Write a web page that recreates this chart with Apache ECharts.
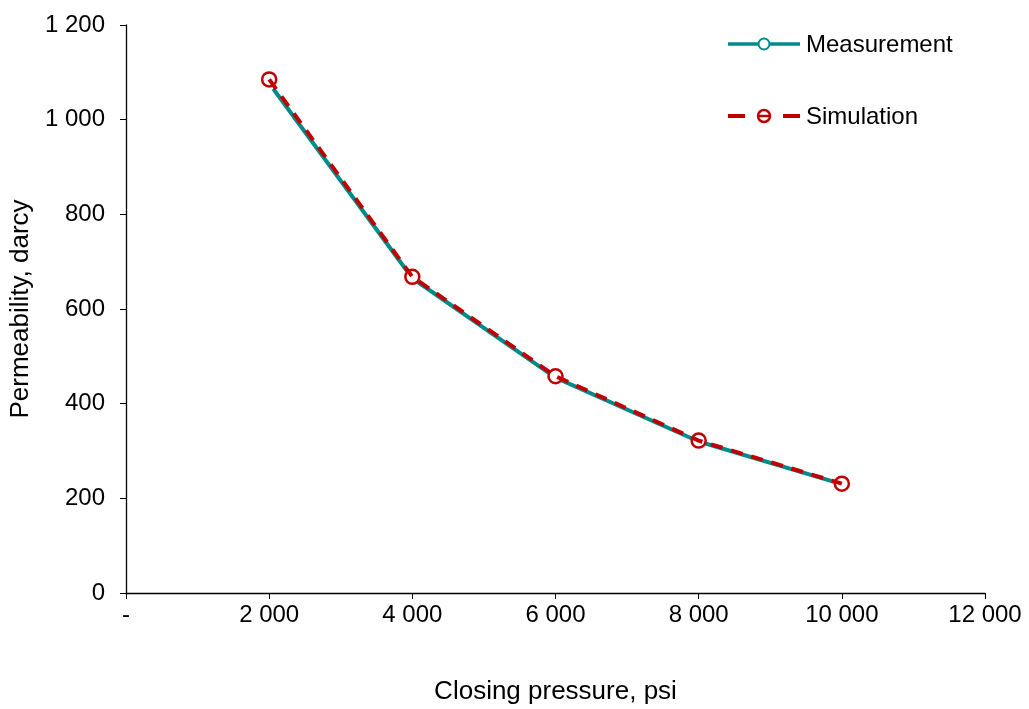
<!DOCTYPE html>
<html><head><meta charset="utf-8">
<script src="https://cdn.jsdelivr.net/npm/echarts@6/dist/echarts.min.js"></script>
<style>html,body{margin:0;padding:0;background:#fff}#c{width:1029px;height:709px}</style>
</head><body><div id="c"></div>
<script>
const pressure = [2000, 4000, 6000, 8000, 10000];
const measurement = [1077, 665, 455, 320, 230];
const simulation = [1085, 668, 458, 322, 231];
const seriesNames = ['Measurement', 'Simulation'];

function fmt(v){ return String(v).replace(/\B(?=(\d{3})+(?!\d))/g,' '); }

const TEAL = '#008B8B', RED = '#C00000';
const chart = echarts.init(document.getElementById('c'));
const F = 'Liberation Sans, Arial, sans-serif';
chart.setOption({
  animation:false,
  grid:{left:126,right:44,top:25,bottom:116,containLabel:false,outerBoundsMode:'none'},
  graphic:[
    {type:'line',shape:{x1:728,y1:44,x2:800,y2:44},style:{stroke:TEAL,lineWidth:3.5}},
    {type:'circle',shape:{cx:764,cy:44,r:5.5},style:{fill:'#fff',stroke:TEAL,lineWidth:2}},
    {type:'text',left:806,top:33,style:{text:seriesNames[0],font:'24px '+F,fill:'#000'}},
    {type:'line',shape:{x1:728,y1:116,x2:745,y2:116},style:{stroke:RED,lineWidth:4}},
    {type:'line',shape:{x1:783,y1:116,x2:800,y2:116},style:{stroke:RED,lineWidth:4}},
    {type:'line',shape:{x1:758,y1:116,x2:770,y2:116},style:{stroke:RED,lineWidth:2.5}},
    {type:'circle',shape:{cx:764,cy:116,r:6},style:{fill:'none',stroke:RED,lineWidth:2.5}},
    {type:'text',left:806,top:105,style:{text:seriesNames[1],font:'24px '+F,fill:'#000'}}
  ],
  xAxis:{
    type:'value', min:0, max:12000, interval:2000,
    name:'Closing pressure, psi', nameLocation:'middle', nameGap:86,
    nameTextStyle:{fontFamily:F,fontSize:26,color:'#000'},
    axisLine:{lineStyle:{color:'#000',width:1.3}},
    axisTick:{show:true,inside:false,length:6,lineStyle:{color:'#000'}},
    splitLine:{show:false},
    axisLabel:{fontFamily:F,fontSize:24,color:'#000',margin:10,
      formatter:v=> v===0?'-':fmt(v)}
  },
  yAxis:{
    type:'value', min:0, max:1200, interval:200,
    name:'Permeability, darcy', nameLocation:'middle', nameGap:87,
    nameTextStyle:{fontFamily:F,fontSize:26,color:'#000'},
    axisLine:{show:true,lineStyle:{color:'#000',width:1.3}},
    axisTick:{show:true,inside:false,length:6,lineStyle:{color:'#000'}},
    splitLine:{show:false},
    axisLabel:{fontFamily:F,fontSize:24,color:'#000',margin:21,
      formatter:v=> fmt(v)}
  },
  series:[
    {name:seriesNames[0],type:'line',data:pressure.map((p,i)=>[p,measurement[i]]),
     symbol:'emptyCircle',symbolSize:12,
     itemStyle:{color:'#fff',borderColor:TEAL,borderWidth:2},
     lineStyle:{color:TEAL,width:4}, color:TEAL, z:2},
    {name:seriesNames[1],type:'line',data:pressure.map((p,i)=>[p,simulation[i]]),
     symbol:'circle',symbolSize:14,
     itemStyle:{color:'transparent',borderColor:RED,borderWidth:2.5},
     lineStyle:{color:RED,width:4,type:[12,9]}, color:RED, z:3}
  ]
});
</script></body></html>
